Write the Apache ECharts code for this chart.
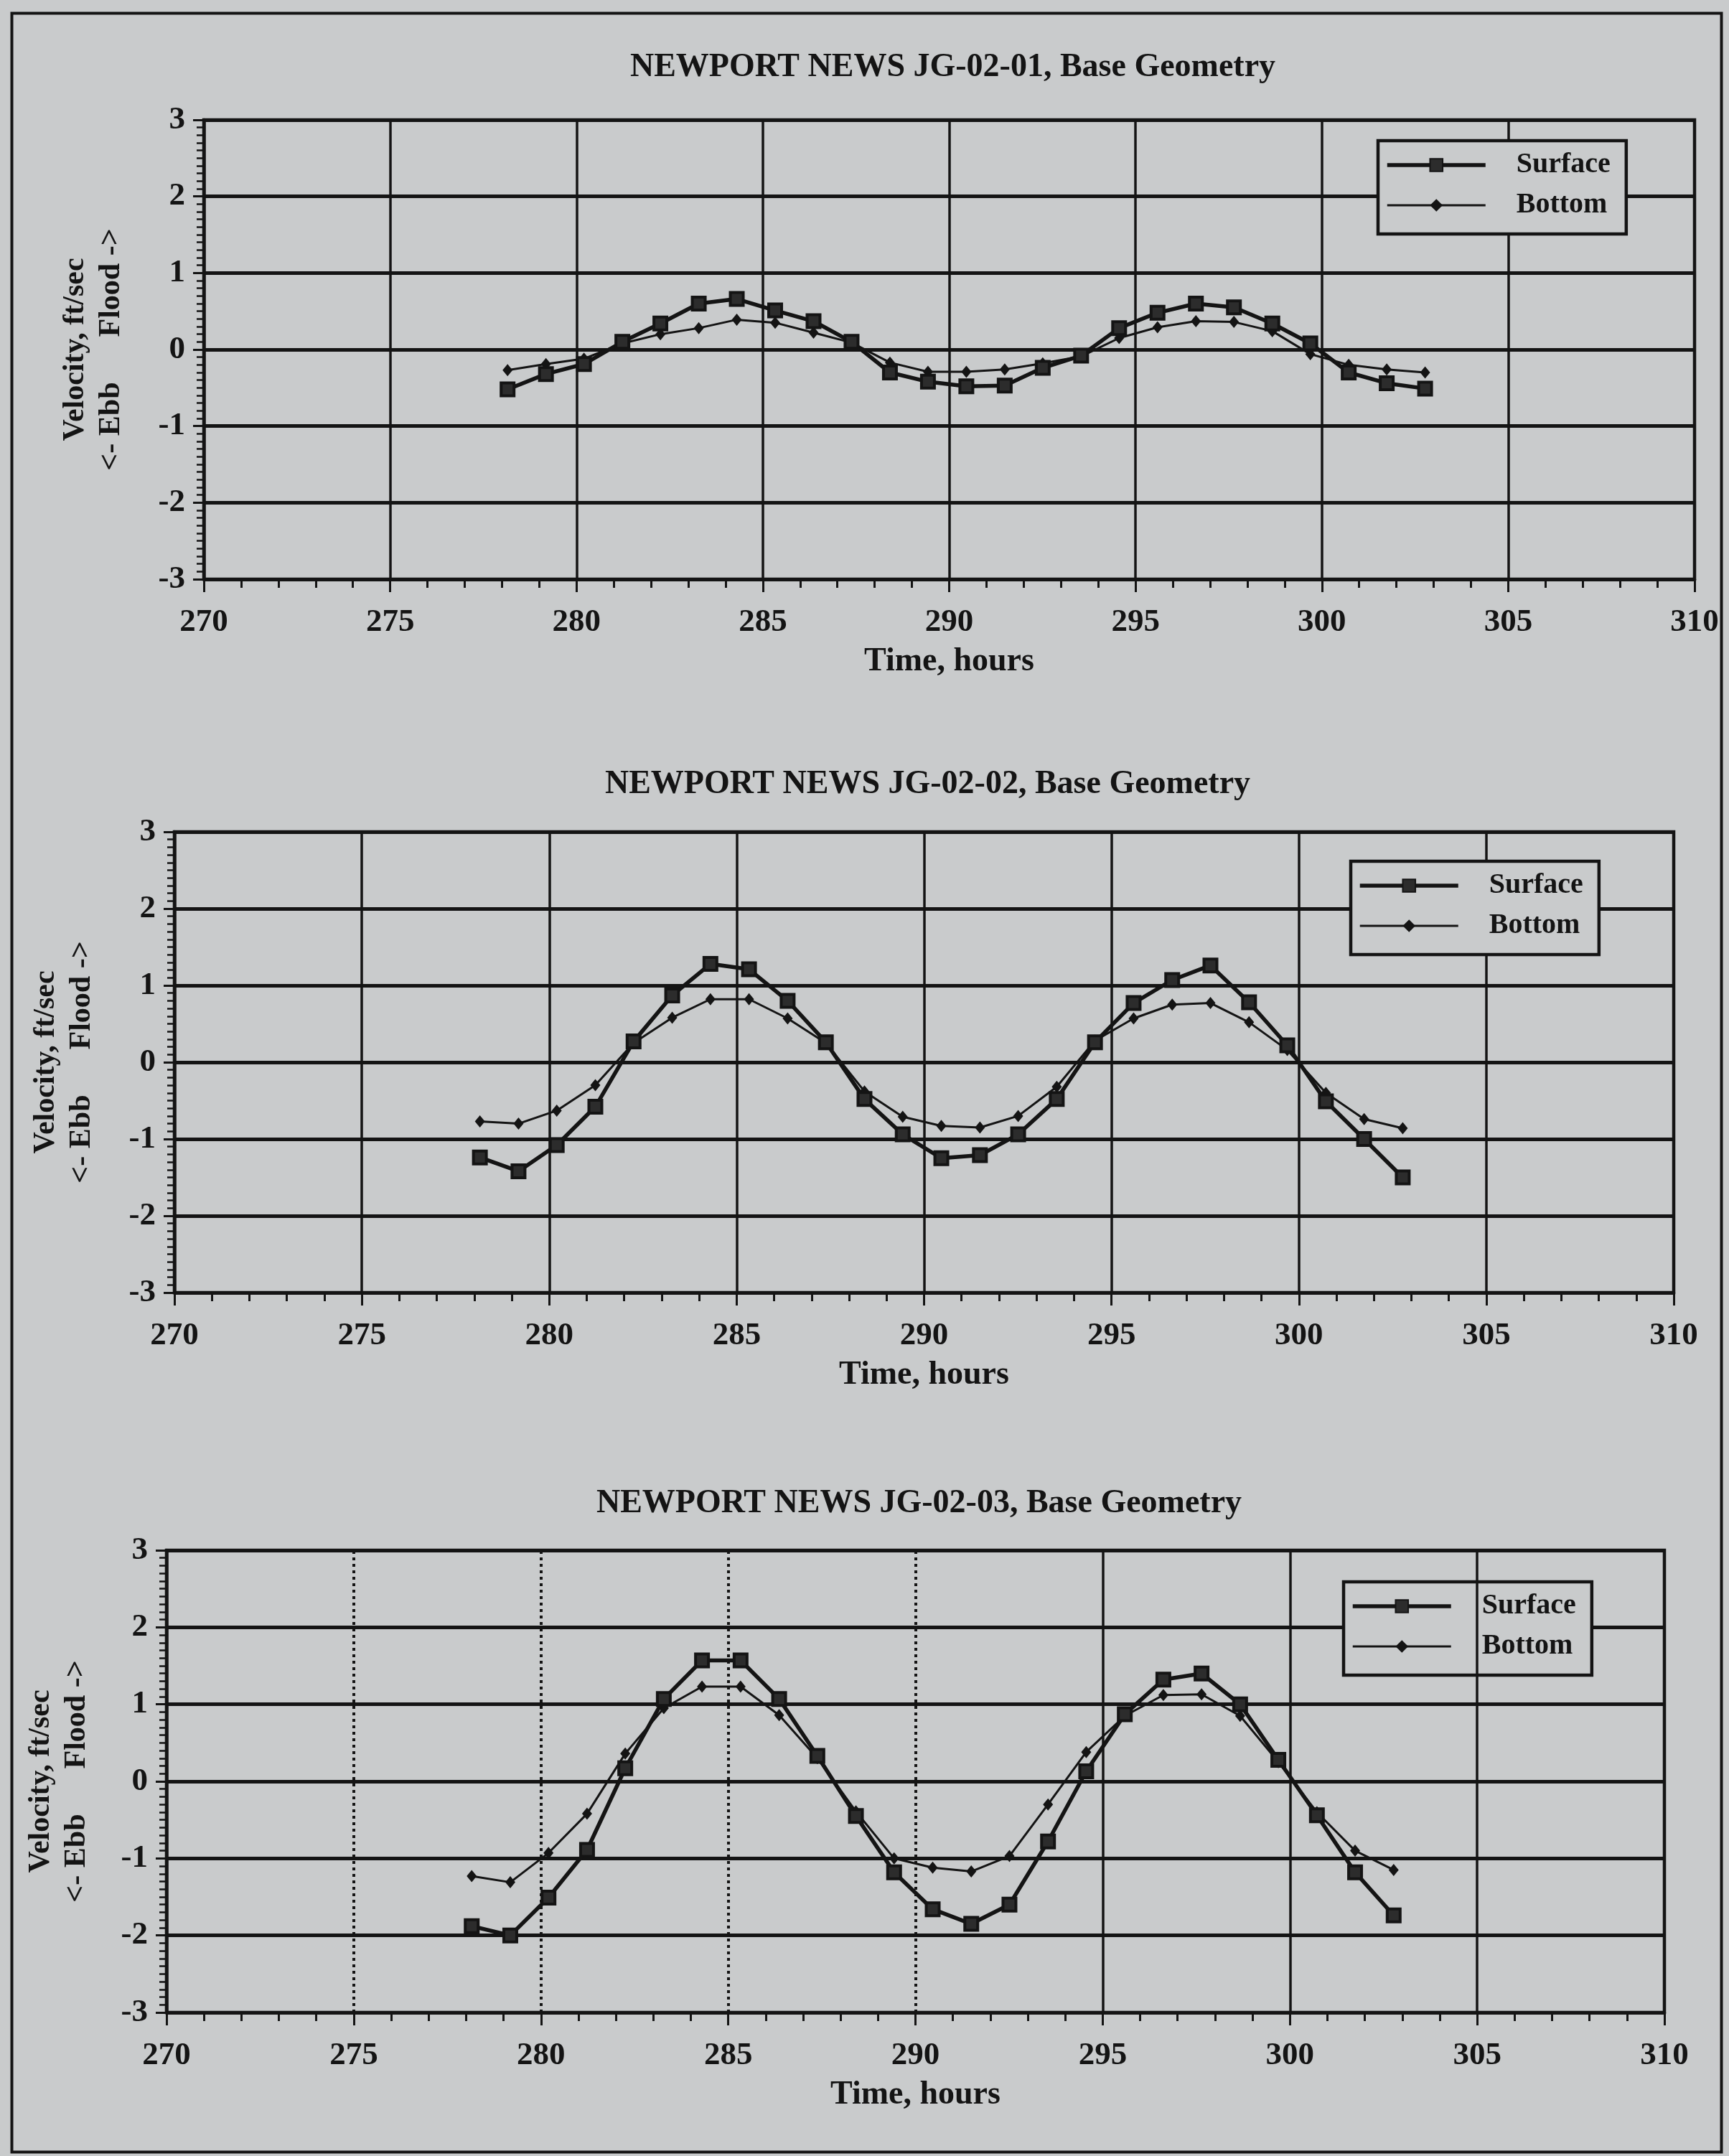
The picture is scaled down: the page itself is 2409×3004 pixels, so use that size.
<!DOCTYPE html>
<html>
<head>
<meta charset="utf-8">
<script src="https://cdn.jsdelivr.net/npm/echarts@6/dist/echarts.min.js"></script>
<style>
html,body{margin:0;padding:0;background:#c9cbcc;}
#chart{width:2409px;height:3004px;}
</style>
</head>
<body>
<div id="chart"></div>
<script>
// ---------------- DATA ----------------
const titles = [
  'NEWPORT NEWS JG-02-01, Base Geometry',
  'NEWPORT NEWS JG-02-02, Base Geometry',
  'NEWPORT NEWS JG-02-03, Base Geometry'
];
const seriesNames = ['Surface', 'Bottom'];
const xTickLabels = [270, 275, 280, 285, 290, 295, 300, 305, 310];
const yTickLabels = [-3, -2, -1, 0, 1, 2, 3];
const xAxisTitle = 'Time, hours';
const yAxisTitle = 'Velocity, ft/sec\n<- Ebb      Flood ->';

// time of each sample (hours)
const hours = [278.15, 279.18, 280.20, 281.23, 282.25, 283.28, 284.30, 285.33, 286.36, 287.38,
               288.41, 289.43, 290.46, 291.49, 292.51, 293.54, 294.56, 295.59, 296.62, 297.64,
               298.67, 299.69, 300.72, 301.74, 302.77];

// JG-02-01
const surface1 = [-0.52, -0.32, -0.19, 0.10, 0.34, 0.60, 0.66, 0.51, 0.37, 0.10,
                  -0.30, -0.42, -0.48, -0.47, -0.24, -0.08, 0.28, 0.48, 0.60, 0.55,
                  0.34, 0.08, -0.30, -0.44, -0.51];
const bottom1  = [-0.27, -0.19, -0.12, 0.08, 0.20, 0.28, 0.39, 0.35, 0.22, 0.09,
                  -0.17, -0.29, -0.29, -0.26, -0.18, -0.09, 0.15, 0.29, 0.37, 0.36,
                  0.24, -0.06, -0.20, -0.26, -0.30];
// JG-02-02
const surface2 = [-1.24, -1.42, -1.08, -0.58, 0.27, 0.87, 1.28, 1.21, 0.80, 0.26,
                  -0.48, -0.94, -1.25, -1.21, -0.94, -0.48, 0.26, 0.77, 1.07, 1.26,
                  0.78, 0.22, -0.51, -1.00, -1.50];
const bottom2  = [-0.77, -0.80, -0.63, -0.30, 0.25, 0.58, 0.82, 0.82, 0.57, 0.25,
                  -0.38, -0.71, -0.83, -0.85, -0.70, -0.32, 0.28, 0.57, 0.75, 0.77,
                  0.52, 0.16, -0.40, -0.74, -0.86];
// JG-02-03
const surface3 = [-1.88, -2.00, -1.51, -0.89, 0.17, 1.07, 1.57, 1.57, 1.07, 0.33,
                  -0.45, -1.18, -1.66, -1.85, -1.60, -0.78, 0.13, 0.87, 1.32, 1.40,
                  1.00, 0.28, -0.44, -1.18, -1.74];
const bottom3  = [-1.23, -1.31, -0.93, -0.42, 0.36, 0.95, 1.23, 1.23, 0.86, 0.30,
                  -0.39, -1.00, -1.12, -1.17, -0.97, -0.30, 0.38, 0.85, 1.12, 1.13,
                  0.85, 0.25, -0.40, -0.90, -1.15];

// vertical grid lines of the third panel: dotted ones and solid ones
const panel3DottedGrid = [275, 280, 285, 290];
const panel3SolidGrid = [295, 300, 305];

// ---------------- LAYOUT / STYLE ----------------
const FONT = '"Liberation Serif", "DejaVu Serif", serif';
const INK = '#141414';
const PAPER = '#c9cbcc';
const panels = [
  {grid: {left: 284, top: 167, width: 2077, height: 640}, titleTop: 66,  legend: {left: 1920, top: 196}, s: surface1, b: bottom1, yNameGap: 104},
  {grid: {left: 243, top: 1159, width: 2089, height: 642}, titleTop: 1065, legend: {left: 1882, top: 1200}, s: surface2, b: bottom2, yNameGap: 104},
  {grid: {left: 232, top: 2160, width: 2087, height: 644}, titleTop: 2067, legend: {left: 1872, top: 2204}, s: surface3, b: bottom3, yNameGap: 100}
];
const surfaceLine = {color: INK, width: 5.5};
const bottomLine = {color: INK, width: 3};

const option = {
  animation: false,
  backgroundColor: PAPER,
  title: [], grid: [], xAxis: [], yAxis: [], series: [], legend: [],
  graphic: [{
    type: 'rect', left: 14, top: 16, silent: true,
    shape: {width: 2382, height: 2980},
    style: {fill: null, stroke: INK, lineWidth: 4}
  }]
};

panels.forEach((p, i) => {
  const cx = p.grid.left + p.grid.width / 2;
  option.title.push({
    text: titles[i], left: cx, top: p.titleTop, textAlign: 'center',
    textStyle: {fontFamily: FONT, fontSize: 46, fontWeight: 'bold', color: INK}
  });
  option.grid.push(Object.assign({show: true, borderColor: INK, borderWidth: 4.5, backgroundColor: 'transparent'}, p.grid));
  option.xAxis.push({
    gridIndex: i, type: 'value',
    min: xTickLabels[0], max: xTickLabels[xTickLabels.length - 1], interval: xTickLabels[1] - xTickLabels[0],
    axisLine: {show: true, onZero: false, lineStyle: {color: INK, width: 4.5}},
    axisTick: {show: true, length: 18, lineStyle: {color: INK, width: 3}},
    minorTick: {show: true, splitNumber: 5, length: 12, lineStyle: {color: INK, width: 3}},
    axisLabel: {fontFamily: FONT, fontSize: 45, fontWeight: 'bold', color: INK, margin: 38},
    splitLine: {show: i !== 2, lineStyle: {color: INK, width: 3.5}},
    name: xAxisTitle, nameLocation: 'middle', nameGap: 92,
    nameTextStyle: {fontFamily: FONT, fontSize: 46, fontWeight: 'bold', color: INK}
  });
  option.yAxis.push({
    gridIndex: i, type: 'value',
    min: yTickLabels[0], max: yTickLabels[yTickLabels.length - 1], interval: yTickLabels[1] - yTickLabels[0],
    axisLine: {show: true, onZero: false, lineStyle: {color: INK, width: 4.5}},
    axisTick: {show: true, length: 15, lineStyle: {color: INK, width: 3}},
    minorTick: {show: true, splitNumber: 10, length: 10, lineStyle: {color: INK, width: 2.5}},
    axisLabel: {fontFamily: FONT, fontSize: 45, fontWeight: 'bold', color: INK, margin: 26},
    splitLine: {show: true, lineStyle: {color: INK, width: 5}},
    name: yAxisTitle, nameLocation: 'middle', nameGap: p.yNameGap, nameRotate: 90,
    nameTextStyle: {fontFamily: FONT, fontSize: 42, fontWeight: 'bold', color: INK, lineHeight: 50, align: 'center'}
  });
  const surf = {
    name: seriesNames[0], type: 'line', xAxisIndex: i, yAxisIndex: i, z: 4,
    data: hours.map((h, k) => [h, p.s[k]]),
    symbol: 'rect', symbolSize: 18, showAllSymbol: true,
    lineStyle: surfaceLine,
    itemStyle: {color: '#2c2c2c', borderColor: INK, borderWidth: 4}
  };
  if (i === 2) {
    surf.markLine = {
      silent: true, symbol: 'none', label: {show: false}, animation: false,
      data: panel3DottedGrid.map(v => ({xAxis: v, lineStyle: {color: INK, width: 4, type: [4, 5]}}))
        .concat(panel3SolidGrid.map(v => ({xAxis: v, lineStyle: {color: INK, width: 3.5, type: 'solid'}})))
    };
  }
  option.series.push(surf);
  option.series.push({
    name: seriesNames[1], type: 'line', xAxisIndex: i, yAxisIndex: i, z: 3,
    data: hours.map((h, k) => [h, p.b[k]]),
    symbol: 'diamond', symbolSize: [14, 17], showAllSymbol: true,
    lineStyle: bottomLine,
    itemStyle: {color: INK}
  });
  option.legend.push({
    left: p.legend.left, top: p.legend.top, orient: 'vertical',
    data: [
      {name: seriesNames[0], lineStyle: surfaceLine},
      {name: seriesNames[1], lineStyle: bottomLine}
    ],
    selectedMode: false,
    itemWidth: 137, itemHeight: 22, itemGap: 8,
    padding: [10, 22, 16, 10],
    backgroundColor: PAPER, borderColor: INK, borderWidth: 4.5, borderRadius: 0,
    textStyle: {fontFamily: FONT, fontSize: 40, fontWeight: 'bold', color: INK, lineHeight: 48, padding: [0, 0, 0, 38]}
  });
});

const chart = echarts.init(document.getElementById('chart'), null, {renderer: 'canvas', width: 2409, height: 3004});
chart.setOption(option);
</script>
</body>
</html>
